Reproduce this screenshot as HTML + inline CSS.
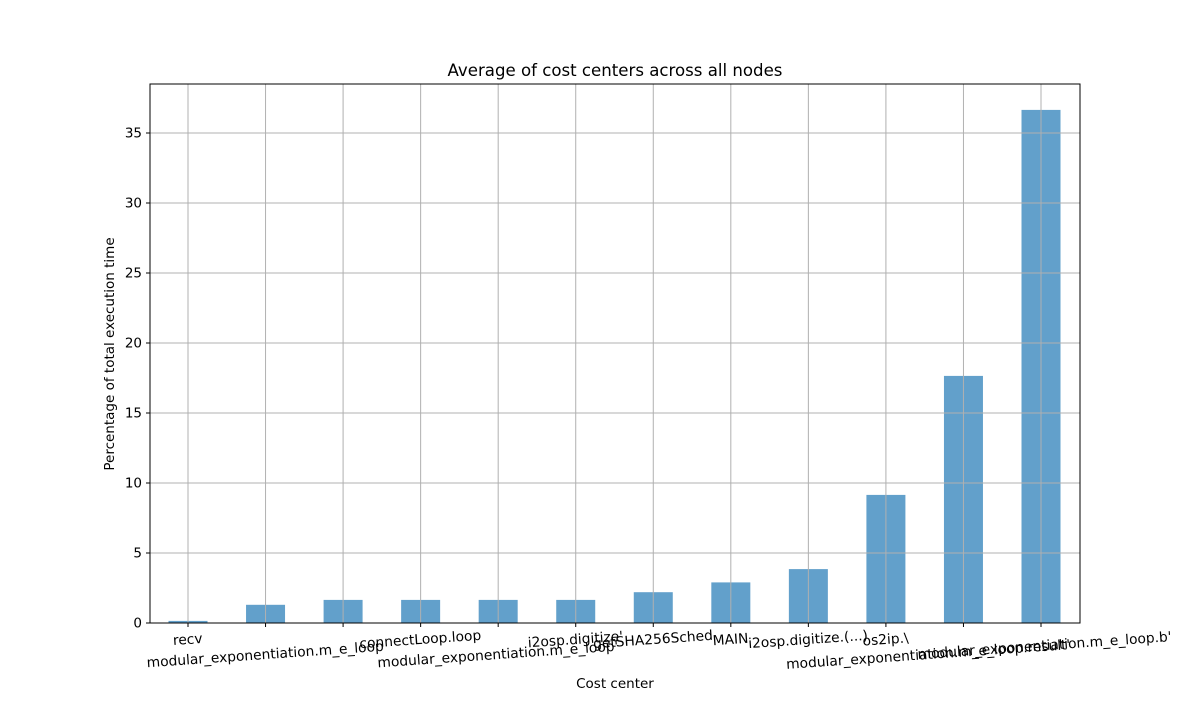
<!DOCTYPE html>
<html><head><meta charset="utf-8"><style>
body{margin:0;background:#fff;}
svg text{font-family:"DejaVu Sans","Liberation Sans",sans-serif;fill:#000;}
</style></head><body>
<svg id="chart" width="1200" height="700" xmlns="http://www.w3.org/2000/svg">
<rect width="1200" height="700" fill="#fff"/>
<g id="bars"></g>
<g id="grid"></g>
<g id="axes"></g>
<text x="615" y="76" font-size="16.6" text-anchor="middle">Average of cost centers across all nodes</text>
<text x="615" y="688" font-size="13.5" text-anchor="middle">Cost center</text>
<text transform="translate(114,354) rotate(-90)" font-size="13.5" text-anchor="middle">Percentage of total execution time</text>
</svg>
<script>
const categories=["recv","modular_exponentiation.m_e_loop","connectLoop.loop","modular_exponentiation.m_e_loop'","i2osp.digitize'","getSHA256Sched","MAIN","i2osp.digitize.(...)","os2ip.\\","modular_exponentiation.m_e_loop.result'","modular_exponentiation.m_e_loop.b'"];
const values=[0.15,1.3,1.65,1.65,1.65,1.65,2.2,2.9,3.85,9.15,17.65,36.65];
const yTicks=[0,5,10,15,20,25,30,35];
const labelTexts=["recv","modular_exponentiation.m_e_loop","connectLoop.loop","modular_exponentiation.m_e_loop'","i2osp.digitize'","getSHA256Sched","MAIN","i2osp.digitize.(...)","os2ip.\\","modular_exponentiation.m_e_loop.result'","modular_exponentiation.m_e_loop.b'"];
const labelPos=[0,1,3,4,5,6,7,8,9,9.55,11.05];
const labelRow=[0,1,0,1,0,0,0,0,0,1,0.4];

const X0=150,X1=1080,Y0=623,YTOP=84;
const n=values.length;
const xc=i=>188+(1041-188)*i/(n-1);
const ys=v=>Y0-v*14;
const NS="http://www.w3.org/2000/svg";
function mk(tag,attrs,parent){const e=document.createElementNS(NS,tag);for(const k in attrs)e.setAttribute(k,attrs[k]);document.getElementById(parent).appendChild(e);return e;}

values.forEach((v,i)=>{
 const r=mk('rect',{x:xc(i)-19.5,y:ys(v),width:39,height:Y0-ys(v),fill:'#62a0cb'},'bars');
 
 
 const g=mk('line',{x1:xc(i),x2:xc(i),y1:YTOP,y2:Y0,stroke:'#b0b0b0','stroke-width':1},'grid');
 
 
 const t=mk('line',{x1:xc(i),x2:xc(i),y1:Y0,y2:Y0+4,stroke:'#000','stroke-width':1},'axes');
 
 
});
yTicks.forEach(v=>{
 const g=mk('line',{x1:X0,x2:X1,y1:ys(v),y2:ys(v),stroke:'#b0b0b0','stroke-width':1},'grid');
 
 
 const t=mk('line',{x1:X0-4,x2:X0,y1:ys(v),y2:ys(v),stroke:'#000','stroke-width':1},'axes');
 
 
 const l=mk('text',{x:X0-8,y:ys(v)+4.5,'font-size':13.5,'text-anchor':'end'},'axes');
 l.textContent=v;
 
 
});
const frame=mk('rect',{x:X0,y:YTOP,width:X1-X0,height:Y0-YTOP,fill:'none',stroke:'#000','stroke-width':1},'axes');


labelTexts.forEach((s,k)=>{
 const p=labelPos[k], x=188+(1041-188)*p/(n-1), y=644+labelRow[k]*15;
 const l=mk('text',{x:x,y:y,'font-size':13.8,'text-anchor':'middle',transform:`rotate(-4 ${x} ${y})`},'axes');
 l.textContent=s;
 
 
});
</script>
</body></html>
